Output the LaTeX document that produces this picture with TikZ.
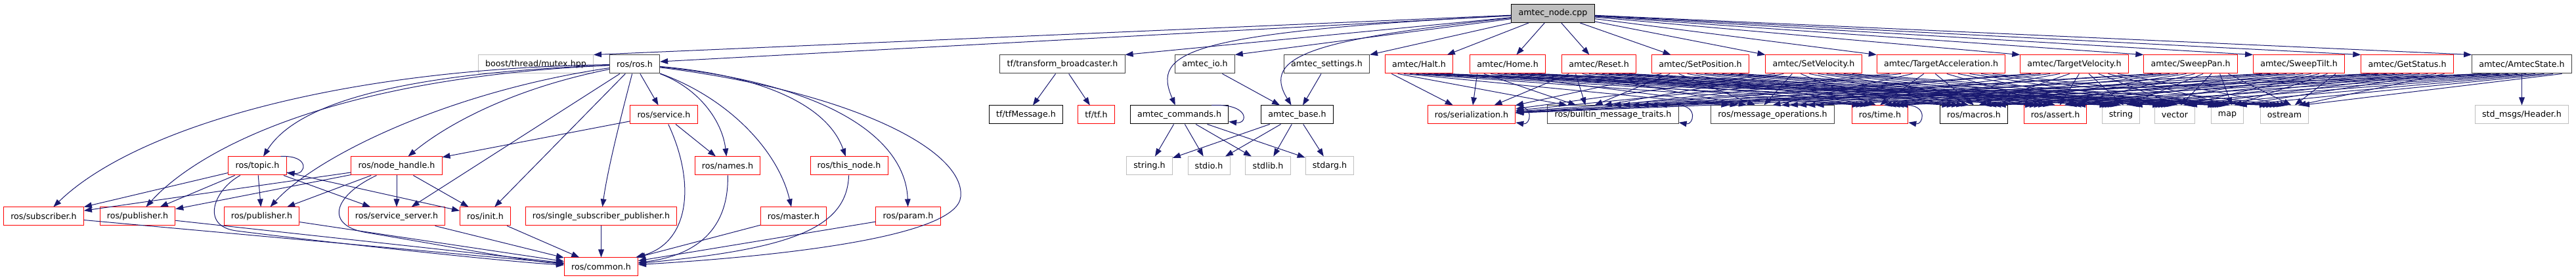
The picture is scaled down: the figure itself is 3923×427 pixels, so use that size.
\documentclass[tikz,border=0pt]{standalone}
\usepackage{fontspec}
\setmainfont{DejaVu Sans}
\usetikzlibrary{arrows.meta,calc}
\definecolor{edgeblue}{HTML}{191970}
\definecolor{truncred}{HTML}{FF0000}
\definecolor{undocgray}{HTML}{BFBFBF}
\definecolor{docgray}{HTML}{404040}
\tikzset{
	hdr/.style={draw, line width=0.75pt, inner xsep=8pt, inner ysep=0pt,
		minimum height=21pt, fill=white, font=\fontsize{9.5}{11}\selectfont},
	rootfile/.style={hdr, draw=black, fill=undocgray},
	docfile/.style={hdr, draw=docgray},
	plainfile/.style={hdr, draw=black},
	truncfile/.style={hdr, draw=truncred},
	sysfile/.style={hdr, draw=undocgray},
	inc/.style={draw=edgeblue, line width=0.75pt, -{Triangle[length=9pt,width=6.5pt]}},
}
\begin{document}
\begin{tikzpicture}[x=0.75pt,y=0.75pt]
	\useasboundingbox (0,0) rectangle (3923,-427);
	% top file
	\node[rootfile] (root) at (2365,-20.5) {amtec\_node.cpp};
	% direct includes
	\node[sysfile] (mutex) at (816,-98) {boost/thread/mutex.hpp};
	\node[docfile] (ros) at (966.5,-98) {ros/ros.h};
	\node[docfile] (tfbc) at (1618,-98) {tf/transform\_broadcaster.h};
	\node[docfile] (amtecio) at (1835,-98) {amtec\_io.h};
	\node[docfile] (settings) at (2020.5,-98) {amtec\_settings.h};
	\node[truncfile] (halt) at (2161,-98) {amtec/Halt.h};
	\node[truncfile] (home) at (2296,-98) {amtec/Home.h};
	\node[truncfile] (reset) at (2435,-98) {amtec/Reset.h};
	\node[truncfile] (setpos) at (2589.5,-98) {amtec/SetPosition.h};
	\node[truncfile] (setvel) at (2762,-98) {amtec/SetVelocity.h};
	\node[truncfile] (tacc) at (2956,-98) {amtec/TargetAcceleration.h};
	\node[truncfile] (tvel) at (3159,-98) {amtec/TargetVelocity.h};
	\node[truncfile] (span) at (3336,-98) {amtec/SweepPan.h};
	\node[truncfile] (stilt) at (3501,-98) {amtec/SweepTilt.h};
	\node[truncfile] (getstatus) at (3666,-98) {amtec/GetStatus.h};
	\node[docfile] (astate) at (3840.5,-98) {amtec/AmtecState.h};
	% third row
	\node[truncfile] (service) at (1011,-175) {ros/service.h};
	\node[plainfile] (tfmsg) at (1562.5,-175) {tf/tfMessage.h};
	\node[truncfile] (tftf) at (1669.5,-175) {tf/tf.h};
	\node[plainfile] (commands) at (1796,-175) {amtec\_commands.h};
	\node[plainfile] (base) at (1975.5,-175) {amtec\_base.h};
	\node[truncfile] (serial) at (2241,-175) {ros/serialization.h};
	\node[docfile] (builtin) at (2456.5,-175) {ros/builtin\_message\_traits.h};
	\node[docfile] (msgops) at (2699.5,-175) {ros/message\_operations.h};
	\node[truncfile] (time) at (2863,-175) {ros/time.h};
	\node[plainfile] (macros) at (3006,-175) {ros/macros.h};
	\node[truncfile] (assert) at (3130,-175) {ros/assert.h};
	\node[sysfile] (string) at (3230,-175) {string};
	\node[sysfile] (vector) at (3312,-175) {vector};
	\node[sysfile] (map) at (3392,-175) {map};
	\node[sysfile] (ostream) at (3479,-175) {ostream};
	\node[sysfile] (header) at (3840.5,-175) {std\_msgs/Header.h};
	% fourth row
	\node[truncfile] (topic) at (392,-253) {ros/topic.h};
	\node[truncfile] (nodehandle) at (604,-253) {ros/node\_handle.h};
	\node[truncfile] (names) at (1108,-253) {ros/names.h};
	\node[truncfile] (thisnode) at (1293,-253) {ros/this\_node.h};
	\node[sysfile] (stringh) at (1750.5,-253) {string.h};
	\node[sysfile] (stdioh) at (1841,-253) {stdio.h};
	\node[sysfile] (stdlibh) at (1931,-253) {stdlib.h};
	\node[sysfile] (stdargh) at (2025,-253) {stdarg.h};
	% fifth row
	\node[truncfile] (subscriber) at (66.5,-330) {ros/subscriber.h};
	\node[truncfile] (puba) at (209.5,-330) {ros/publisher.h};
	\node[truncfile] (pubb) at (398.5,-330) {ros/publisher.h};
	\node[truncfile] (sserver) at (604,-330) {ros/service\_server.h};
	\node[truncfile] (init) at (739,-330) {ros/init.h};
	\node[truncfile] (sspub) at (915.5,-330) {ros/single\_subscriber\_publisher.h};
	\node[truncfile] (master) at (1208.5,-330) {ros/master.h};
	\node[truncfile] (param) at (1383,-330) {ros/param.h};
	\node[truncfile] (common) at (915.5,-407) {ros/common.h};

	% amtec_node.cpp includes
	\draw[inc] (root) -- (mutex.north east);
	\draw[inc] (root) -- ([yshift=3pt]ros.east);
	\foreach \n in {tfbc,amtecio,settings}
		\draw[inc] (root) -- (\n.north east);
	\draw[inc] (root) -- ([xshift=-7pt]halt.north east);
	\draw[inc] (root) -- ([xshift=10pt]home.north);
	\draw[inc] (root) -- ([xshift=-11pt]reset.north);
	\draw[inc] (root) -- ([xshift=22pt]setpos.north west);
	\foreach \n in {setvel,tacc,tvel,span,stilt,getstatus,astate}
		\draw[inc] (root) -- (\n.north west);
	\draw[inc] (root) .. controls (1800,-50) and (1755,-80) .. (commands);
	\draw[inc] (root) .. controls (2000,-60) and (1920,-85) .. (base);

	% ros/ros.h
	\draw[inc] (ros) .. controls (600,-112) and (450,-160) .. (topic);
	\draw[inc] (ros) .. controls (500,-105) and (200,-200) .. (subscriber);
	\draw[inc] (ros) .. controls (480,-120) and (290,-240) .. (puba);
	\draw[inc] (ros) .. controls (680,-140) and (480,-240) .. (pubb);
	\draw[inc] (ros) .. controls (780,-135) and (680,-190) .. (nodehandle);
	\draw[inc] (ros) -- (sserver);
	\draw[inc] (ros) -- (init);
	\draw[inc] (ros) .. controls (945,-180) and (925,-260) .. (sspub);
	\draw[inc] (ros) -- (service);
	\draw[inc] (ros) .. controls (1065,-135) and (1100,-185) .. (names);
	\draw[inc] (ros) .. controls (1110,-150) and (1185,-230) .. (master);
	\draw[inc] (ros) .. controls (1160,-115) and (1260,-160) .. (thisnode);
	\draw[inc] (ros) .. controls (1280,-130) and (1380,-220) .. (param);
	\draw[inc] (ros) .. controls (1300,-140) and (1470,-230) .. (1463,-300)
		.. controls (1458,-360) and (1200,-390) .. (common);

	% ros/service.h
	\draw[inc] (service) -- (nodehandle);
	\draw[inc] (service) -- (names);
	\draw[inc] (service) .. controls (1060,-280) and (1050,-370) .. (common);

	% ros/topic.h
	\draw[inc] ([xshift=-6.75pt]topic.north east) .. controls +(45,2) and +(30,-3)
		.. ([yshift=3pt]topic.south east);
	\foreach \n in {pubb,sserver,init,subscriber,puba}
		\draw[inc] (topic) -- (\n);
	\draw[inc] (topic) .. controls (325,-290) and (305,-345) .. (360,-352)
		.. controls (500,-370) and (780,-400) .. (common);

	% ros/node_handle.h
	\foreach \n in {pubb,sserver,init,subscriber,puba}
		\draw[inc] (nodehandle) -- (\n);
	\draw[inc] (nodehandle) .. controls (505,-300) and (495,-345) .. (560,-355)
		.. controls (680,-375) and (800,-398) .. (common);

	% into ros/common.h
	\draw[inc] (names) .. controls (1110,-350) and (1060,-390) .. (common);
	\draw[inc] (thisnode) .. controls (1290,-350) and (1200,-380) .. (common);
	\foreach \n in {subscriber,puba,pubb,sserver,init,sspub,master,param}
		\draw[inc] (\n) -- (common);

	% tf and amtec helpers
	\draw[inc] (tfbc) -- (tfmsg);
	\draw[inc] (tfbc) -- (tftf);
	\draw[inc] (amtecio) -- (base);
	\draw[inc] (settings) -- (base);
	\draw[inc] ([xshift=-19.5pt]commands.north east) .. controls +(58,3) and +(30,-4)
		.. ([yshift=3pt]commands.south east);
	\foreach \n in {stringh,stdioh,stdlibh,stdargh} {
		\draw[inc] (commands) -- (\n);
		\draw[inc] (base) -- (\n);
	}

	% generated message headers
	\foreach \m [count=\j] in {halt,home,reset,setpos,setvel,tacc,tvel,span,stilt,getstatus,astate} {
		\pgfmathsetmacro\g{0.15+0.7*(\j-1)/10}
		\draw[inc] ($(\m.south west)!0.1!(\m.south east)$) -- (serial);
		\foreach \n [count=\k] in {builtin,msgops,time,macros,assert,string,vector,map,ostream} {
			\pgfmathsetmacro\f{0.1+0.8*\k/9}
			\draw[inc] ($(\m.south west)!\f!(\m.south east)$)
				-- ($(\n.north west)!\g!(\n.north east)$);
		}
	}
	\draw[inc] (astate) -- (header);
	\foreach \n in {serial,builtin,time}
		\draw[inc] (\n.north east) .. controls +(30,-2) and +(22,-4)
			.. ([yshift=2pt]\n.south east);
\end{tikzpicture}
\end{document}
